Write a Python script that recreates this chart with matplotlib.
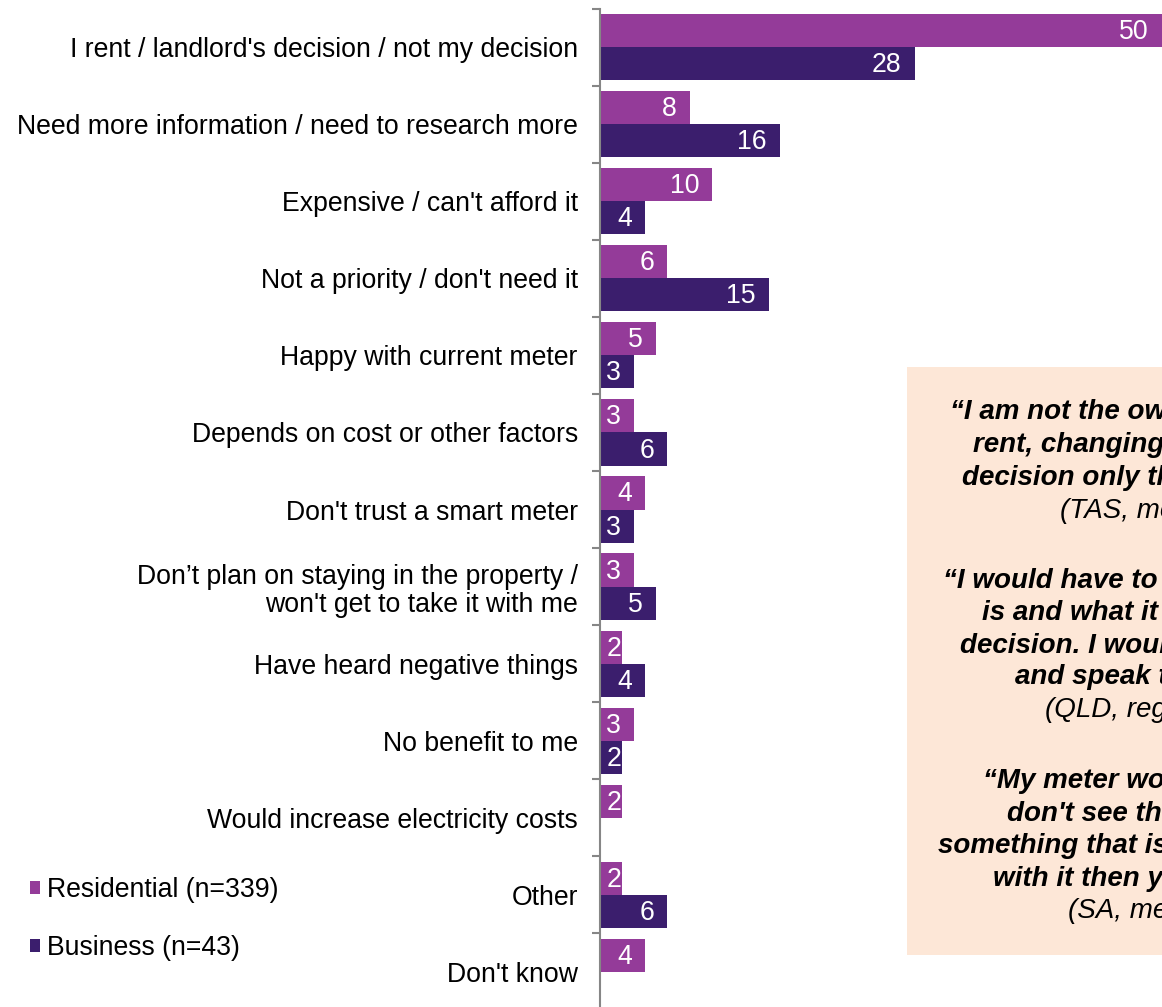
import matplotlib
matplotlib.use('Agg')
import matplotlib.pyplot as plt
from matplotlib.patches import Rectangle
import numpy as np

plt.rcParams['font.family'] = ['Liberation Sans', 'DejaVu Sans']

categories = ["I rent / landlord's decision / not my decision",
              'Need more information / need to research more',
              "Expensive / can't afford it",
              "Not a priority / don't need it",
              'Happy with current meter',
              'Depends on cost or other factors',
              "Don't trust a smart meter",
              "Don\u2019t plan on staying in the property /\nwon't get to take it with me",
              'Have heard negative things',
              'No benefit to me',
              'Would increase electricity costs',
              'Other',
              "Don't know"]
residential = [50, 8, 10, 6, 5, 3, 4, 3, 2, 3, 2, 2, 4]
business = [28, 16, 4, 15, 3, 6, 3, 5, 4, 2, None, 6, None]
series_names = ['Residential (n=339)', 'Business (n=43)']

quotes = [
    ["\u201cI am not the owner of the house I", "rent, changing the meter is their",
     "decision only the owner can do it.\u201d"],
    ["\u201cI would have to know what a smart meter", "is and what it would cost before I made a",
     "decision. I would want to research it", "and speak to others first.\u201d"],
    ["\u201cMy meter works perfectly well and I", "don't see the point in changing it. If",
     "something that is there works and nothing is wrong", "with it then you shouldn't change it.\u201d"],
]
sources = ['(TAS, metro, residential)', '(QLD, regional, business)', '(SA, metro, residential)']

RES_COLOR = '#943B99'
BUS_COLOR = '#3B1E6D'
W, H = 1162, 1007
FS = 19.2
QFS = 20
XMAX = 50
PX_PER_UNIT = (W - 600) / XMAX

fig = plt.figure(figsize=(W / 100, H / 100), dpi=100)
ax = fig.add_axes([600 / W, -3.5 / H, 1 - 600 / W, 1002 / H])

y = np.arange(len(categories))
bh = 0.43
for vals, off, color, name in [(residential, -bh / 2, RES_COLOR, series_names[0]),
                               (business, bh / 2, BUS_COLOR, series_names[1])]:
    idx = [i for i, v in enumerate(vals) if v is not None]
    v = [vals[i] for i in idx]
    ax.barh(y[idx] + off, v, height=bh, color=color, label=name)
    for i, val in zip(idx, v):
        # label sits inside the bar end, but never spills left of the axis
        lx = max(val - 13 / PX_PER_UNIT, 21 / PX_PER_UNIT)
        ax.text(lx, y[i] + off + 0.02, str(val), color='white',
                fontsize=FS, ha='right', va='center')

ax.set_xlim(0, XMAX)
ax.set_ylim(len(categories) - 0.5, -0.5)
ax.set_yticks(y)
ax.set_yticklabels(categories, fontsize=FS, linespacing=1.1)
ax.set_yticks(np.arange(-0.5, len(categories)), minor=True)
ax.tick_params(axis='y', which='major', length=0, pad=16)
ax.tick_params(axis='y', which='minor', length=6, width=1.5, color='#868686', direction='out')
ax.set_xticks([])
for s in ['top', 'right', 'bottom']:
    ax.spines[s].set_visible(False)
ax.spines['left'].set_color('#868686')
ax.spines['left'].set_linewidth(1.5)

handles, labels = ax.get_legend_handles_labels()
fig.legend(handles, labels, loc='upper left', bbox_to_anchor=(6 / W, 1 - 853 / H),
           frameon=False, fontsize=FS, handlelength=0.38, handleheight=0.38,
           handletextpad=0.27, labelspacing=1.2)

# quote panel on the right
fig.add_artist(Rectangle((907 / W, 1 - 955 / H), 600 / W, 588 / H,
                         transform=fig.transFigure, facecolor='#FDE7D7', edgecolor='none', zorder=1))

quote_rows = [[(950, 412), (973, 445), (962, 478)],
              [(943, 581), (982, 613), (960, 646), (1015, 677)],
              [(983, 781), (1007, 814), (938, 846), (993, 879)]]
source_rows = [(1060, 511), (1045, 710), (1068, 911)]
for lines, rows, src, (sx, sy) in zip(quotes, quote_rows, sources, source_rows):
    for line, (px, py) in zip(lines, rows):
        fig.text(px / W, 1 - py / H, line, fontsize=QFS, fontweight='bold', fontstyle='italic',
                 ha='left', va='center', zorder=2)
    fig.text(sx / W, 1 - sy / H, src, fontsize=QFS, fontstyle='italic',
             ha='left', va='center', zorder=2)

fig.savefig('out.png', dpi=100)
